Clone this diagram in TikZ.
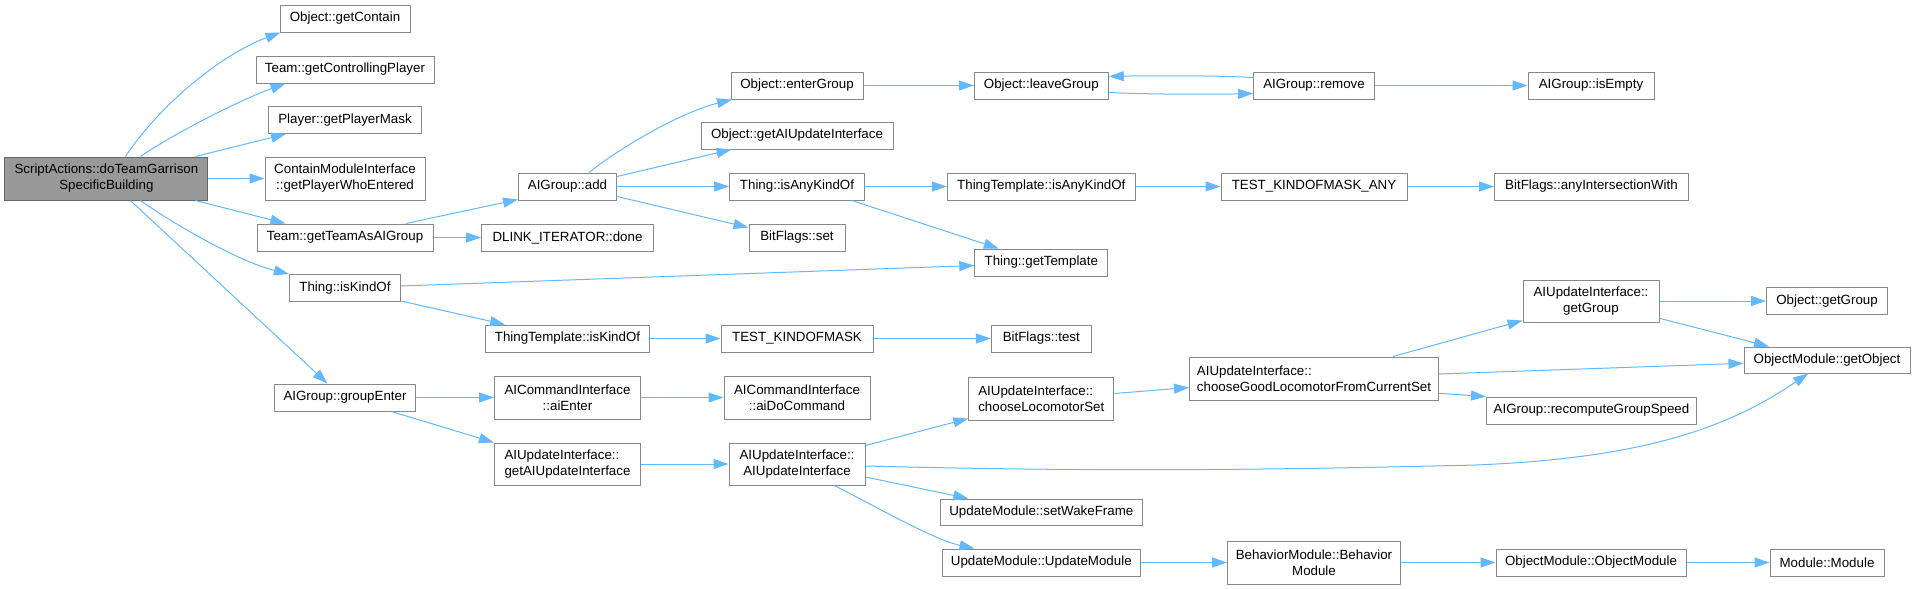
\documentclass[tikz,border=0pt]{standalone}
\usepackage{fontspec}
\setmainfont{Liberation Sans}
\usetikzlibrary{arrows.meta}
\definecolor{boxc}{HTML}{888888}
\definecolor{rootfill}{HTML}{999999}
\definecolor{rootdraw}{HTML}{666666}
\definecolor{edgec}{HTML}{63B8FF}
\newcommand\fsz{\fontsize{13.33}{16}\selectfont}
\tikzset{
  box/.style={draw=boxc, fill=white, line width=1pt, inner sep=0pt, align=center, font=\fsz},
  lbox/.style={box, align=left},
  rootbox/.style={box, fill=rootfill, draw=rootdraw},
  edge/.style={draw=edgec, line width=1pt, -{Triangle[length=15pt,width=10pt]}},
}
\begin{document}
\begin{tikzpicture}[x=1pt,y=-1pt]
\useasboundingbox (0,0) rectangle (1915,589);
% column 0
\node[rootbox, minimum width=203pt, minimum height=43pt] (root) at (106.4,178.5) {ScriptActions::doTeamGarrison\\SpecificBuilding};
% column 1
\node[box, minimum width=130pt, minimum height=27pt] (getContain) at (345,18.5) {Object::getContain};
\node[box, minimum width=178pt, minimum height=27pt] (ctrlPlayer) at (345,69.5) {Team::getControllingPlayer};
\node[box, minimum width=153pt, minimum height=27pt] (playerMask) at (345,120) {Player::getPlayerMask};
\node[box, minimum width=160pt, minimum height=43pt] (cmi) at (345,178.5) {ContainModuleInterface\\::getPlayerWhoEntered};
\node[box, minimum width=176pt, minimum height=27pt] (teamAI) at (345,237.5) {Team::getTeamAsAIGroup};
\node[box, minimum width=111pt, minimum height=27pt] (isKindOf) at (345,288) {Thing::isKindOf};
\node[box, minimum width=141pt, minimum height=27pt] (groupEnter) at (345,397.5) {AIGroup::groupEnter};
% column 2
\node[box, minimum width=98pt, minimum height=27pt] (add) at (567.5,186.5) {AIGroup::add};
\node[box, minimum width=172pt, minimum height=27pt] (dlink) at (567.5,237.5) {DLINK\_ITERATOR::done};
\node[box, minimum width=164pt, minimum height=27pt] (ttIsKindOf) at (567.5,338.5) {ThingTemplate::isKindOf};
\node[box, minimum width=146pt, minimum height=43pt] (aiEnter) at (567.5,397.5) {AICommandInterface\\::aiEnter};
\node[lbox, minimum width=146pt, minimum height=42pt] (getAIUIf) at (567.5,464) {AIUpdateInterface::\\getAIUpdateInterface};
% column 3
\node[box, minimum width=132pt, minimum height=27pt] (enterGroup) at (797,85.5) {Object::enterGroup};
\node[box, minimum width=192pt, minimum height=27pt] (objGetAIUI) at (797,135.5) {Object::getAIUpdateInterface};
\node[box, minimum width=135pt, minimum height=27pt] (isAnyKindOf) at (797,186.5) {Thing::isAnyKindOf};
\node[box, minimum width=96pt, minimum height=27pt] (bfSet) at (797,237.5) {BitFlags::set};
\node[box, minimum width=152pt, minimum height=27pt] (tkm) at (797,338.5) {TEST\_KINDOFMASK};
\node[box, minimum width=146pt, minimum height=43pt] (aiDoCommand) at (797,397.5) {AICommandInterface\\::aiDoCommand};
\node[box, minimum width=136pt, minimum height=42pt] (aiuiCtor) at (797,464) {AIUpdateInterface::\\AIUpdateInterface};
% column 4
\node[box, minimum width=134pt, minimum height=27pt] (leaveGroup) at (1041.3,85.5) {Object::leaveGroup};
\node[box, minimum width=188pt, minimum height=27pt] (ttIsAnyKindOf) at (1041.3,186.5) {ThingTemplate::isAnyKindOf};
\node[box, minimum width=133pt, minimum height=27pt] (getTemplate) at (1041.3,262.5) {Thing::getTemplate};
\node[box, minimum width=100pt, minimum height=27pt] (bfTest) at (1041.3,338.5) {BitFlags::test};
\node[lbox, minimum width=145pt, minimum height=43pt] (chooseLoco) at (1041.3,398.5) {AIUpdateInterface::\\chooseLocomotorSet};
\node[box, minimum width=202pt, minimum height=26pt] (setWake) at (1041.3,512) {UpdateModule::setWakeFrame};
\node[box, minimum width=198pt, minimum height=27pt] (updModule) at (1041.3,562.5) {UpdateModule::UpdateModule};
% column 5
\node[box, minimum width=121pt, minimum height=27pt] (remove) at (1314,85.5) {AIGroup::remove};
\node[box, minimum width=186pt, minimum height=27pt] (tkmAny) at (1314,186.5) {TEST\_KINDOFMASK\_ANY};
\node[lbox, minimum width=249pt, minimum height=43pt] (chooseGood) at (1314,378.5) {AIUpdateInterface::\\chooseGoodLocomotorFromCurrentSet};
\node[box, minimum width=173pt, minimum height=43pt] (behavior) at (1314,562.5) {BehaviorModule::Behavior\\Module};
% column 6
\node[box, minimum width=126pt, minimum height=27pt] (isEmpty) at (1591,85.5) {AIGroup::isEmpty};
\node[box, minimum width=194pt, minimum height=27pt] (anyInt) at (1591.5,186.5) {BitFlags::anyIntersectionWith};
\node[box, minimum width=136pt, minimum height=42pt] (aiuiGetGroup) at (1591,301) {AIUpdateInterface::\\getGroup};
\node[box, minimum width=210pt, minimum height=27pt] (recompute) at (1591.5,410.5) {AIGroup::recomputeGroupSpeed};
\node[box, minimum width=190pt, minimum height=27pt] (objModCtor) at (1591,562.5) {ObjectModule::ObjectModule};
% column 7
\node[box, minimum width=121pt, minimum height=27pt] (objGetGroup) at (1827,301) {Object::getGroup};
\node[box, minimum width=166pt, minimum height=26pt] (getObject) at (1827,360) {ObjectModule::getObject};
\node[box, minimum width=114pt, minimum height=27pt] (module) at (1827,562.5) {Module::Module};

% edges from root
\draw[edge] ([xshift=121pt]root.north west) .. controls (160,105) and (220,55) .. ([xshift=1pt]getContain.south west);
\draw[edge] ([xshift=136pt]root.north west) .. controls (175,133) and (240,100) .. ([xshift=30pt]ctrlPlayer.south west);
\draw[edge] ([xshift=191pt]root.north west) -- ([xshift=18pt]playerMask.south west);
\draw[edge] (root.east) -- (cmi.west);
\draw[edge] ([xshift=191pt]root.south west) -- ([xshift=29pt]teamAI.north west);
\draw[edge] ([xshift=136pt]root.south west) .. controls (175,225) and (240,262) .. (isKindOf.north west);
\draw[edge] ([xshift=126pt]root.south west) -- ([xshift=53.5pt]groupEnter.north west);
% column 1 out
\draw[edge] ([xshift=149.4pt]teamAI.north west) -- ([yshift=1pt]add.south west);
\draw[edge] (teamAI.east) -- (dlink.west);
\draw[edge] ([yshift=2pt]isKindOf.east) -- ([yshift=-3pt]getTemplate.west);
\draw[edge] ([yshift=1pt]isKindOf.south east) -- ([xshift=20pt]ttIsKindOf.north west);
\draw[edge] (groupEnter.east) -- (aiEnter.west);
\draw[edge] ([xshift=117.5pt]groupEnter.south west) -- (getAIUIf.north west);
% column 2 out
\draw[edge] ([xshift=71pt]add.north west) .. controls (613,153) and (675,114) .. ([xshift=1.5pt]enterGroup.south west);
\draw[edge] ([yshift=10pt]add.east) -- ([xshift=31pt]objGetAIUI.south west);
\draw[edge] (add.east) -- (isAnyKindOf.west);
\draw[edge] ([yshift=-10pt]add.east) -- ([yshift=10pt]bfSet.west);
\draw[edge] (ttIsKindOf.east) -- (tkm.west);
\draw[edge] (aiEnter.east) -- (aiDoCommand.west);
\draw[edge] (getAIUIf.east) -- (aiuiCtor.west);
% column 3 out
\draw[edge] (enterGroup.east) -- (leaveGroup.west);
\draw[edge] (isAnyKindOf.east) -- (ttIsAnyKindOf.west);
\draw[edge] ([xshift=122.8pt]isAnyKindOf.south west) -- ([xshift=24.5pt]getTemplate.north west);
\draw[edge] (tkm.east) -- (bfTest.west);
\draw[edge] ([yshift=-3pt]aiuiCtor.north east) -- ([yshift=2pt]chooseLoco.south west);
\draw[edge] ([yshift=-2pt]aiuiCtor.east) .. controls (1100,472) and (1270,470) .. (1476,465) .. controls (1640,458) and (1725,430) .. ([xshift=64.6pt]getObject.south west);
\draw[edge] ([yshift=-13pt]aiuiCtor.east) -- ([xshift=28.6pt]setWake.north west);
\draw[edge] ([xshift=106pt]aiuiCtor.south west) .. controls (880,509) and (935,540) .. ([xshift=32.7pt]updModule.north west);
% column 4 out
\draw[edge] ([yshift=-7pt]leaveGroup.east) .. controls (1150,94.5) and (1215,94.5) .. ([yshift=-8pt]remove.west);
\draw[edge] ([yshift=8pt]remove.west) .. controls (1220,75.5) and (1150,75.5) .. ([yshift=9pt]leaveGroup.east);
\draw[edge] (ttIsAnyKindOf.east) -- (tkmAny.west);
\draw[edge] ([yshift=5pt]chooseLoco.east) -- ([yshift=-9pt]chooseGood.west);
\draw[edge] (updModule.east) -- (behavior.west);
% column 5 out
\draw[edge] (remove.east) -- (isEmpty.west);
\draw[edge] (tkmAny.east) -- (anyInt.west);
\draw[edge] ([xshift=204pt]chooseGood.north west) -- ([yshift=2pt]aiuiGetGroup.south west);
\draw[edge] ([yshift=4.5pt]chooseGood.east) -- ([yshift=-3.3pt]getObject.west);
\draw[edge] ([yshift=-14.8pt]chooseGood.east) -- (recompute.north west);
\draw[edge] (behavior.east) -- (objModCtor.west);
% column 6 out
\draw[edge] (aiuiGetGroup.east) -- (objGetGroup.west);
\draw[edge] ([yshift=-17.3pt]aiuiGetGroup.east) -- ([xshift=25.5pt]getObject.north west);
\draw[edge] (objModCtor.east) -- (module.west);
\end{tikzpicture}
\end{document}
